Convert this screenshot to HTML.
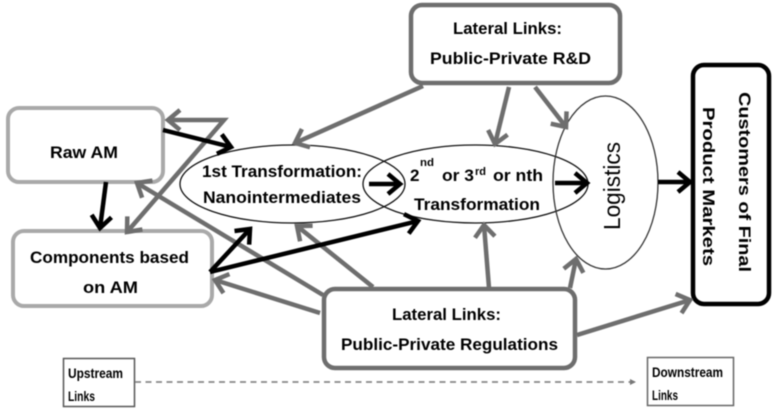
<!DOCTYPE html>
<html>
<head>
<meta charset="utf-8">
<style>
html,body{margin:0;padding:0;background:#fff;width:779px;height:412px;overflow:hidden}
svg{display:block;filter:blur(0.6px)}
text{font-family:"Liberation Sans","DejaVu Sans",sans-serif;fill:#000}
.b{font-weight:bold;font-size:17px}
.s{font-weight:bold;font-size:14px}
</style>
</head>
<body>
<svg width="779" height="412" viewBox="0 0 779 412" xmlns="http://www.w3.org/2000/svg">
<defs>
<marker id="g" markerUnits="userSpaceOnUse" markerWidth="30" markerHeight="30" refX="16" refY="15" orient="auto-start-reverse" overflow="visible">
<path d="M4,5 L16,15 L4,25" fill="none" stroke="#6e6e6e" stroke-width="4.500"/>
</marker>
<marker id="k" markerUnits="userSpaceOnUse" markerWidth="30" markerHeight="30" refX="16" refY="15" orient="auto" overflow="visible">
<path d="M4,5 L16,15 L4,25" fill="none" stroke="#000" stroke-width="4.500"/>
</marker>
<marker id="d" markerUnits="userSpaceOnUse" markerWidth="10" markerHeight="10" refX="7" refY="5" orient="auto">
<path d="M1,2 L7,5 L1,8 Z" fill="#777"/>
</marker>
</defs>

<rect x="8" y="108" width="155" height="74" rx="11" fill="#fff" stroke="#a9a9a9" stroke-width="4"/>
<rect x="13" y="231" width="199" height="75" rx="11" fill="#fff" stroke="#a9a9a9" stroke-width="4"/>
<rect x="411" y="5" width="209" height="78" rx="11" fill="#fff" stroke="#6e6e6e" stroke-width="4.500"/>
<rect x="324" y="289" width="251" height="79" rx="11" fill="#fff" stroke="#6e6e6e" stroke-width="4.500"/>
<rect x="693" y="65" width="76" height="239" rx="11" fill="#fff" stroke="#000" stroke-width="4.500"/>
<rect x="63.5" y="358.5" width="71" height="48" fill="#fff" stroke="#555" stroke-width="1.5"/>
<rect x="647.5" y="357.5" width="86" height="48" fill="#fff" stroke="#666" stroke-width="1.5"/>

<ellipse cx="292.500" cy="184" rx="112.500" ry="39" fill="none" stroke="#111" stroke-width="1.3"/>
<ellipse cx="475.500" cy="184" rx="112.500" ry="39" fill="none" stroke="#111" stroke-width="1.3"/>
<ellipse cx="605.500" cy="182.500" rx="52.500" ry="86.500" fill="none" stroke="#333" stroke-width="1.3"/>

<g fill="none" stroke="#6e6e6e" stroke-width="4.500">
<polyline points="168,120 224,120 127,232" marker-start="url(#g)" marker-end="url(#g)"/>
<line x1="423" y1="86" x2="295" y2="143" marker-end="url(#g)"/>
<line x1="509" y1="87" x2="495" y2="144" marker-end="url(#g)"/>
<line x1="535" y1="87" x2="566" y2="127" marker-end="url(#g)"/>
<line x1="323" y1="295" x2="137" y2="183" marker-end="url(#g)"/>
<line x1="320" y1="313" x2="215" y2="280" marker-end="url(#g)"/>
<line x1="373" y1="287" x2="297" y2="226" marker-end="url(#g)"/>
<line x1="489" y1="288" x2="484" y2="225" marker-end="url(#g)"/>
<line x1="570" y1="288" x2="576" y2="259" marker-end="url(#g)"/>
<line x1="577" y1="335" x2="690" y2="300" marker-end="url(#g)"/>
</g>

<g fill="none" stroke="#000" stroke-width="4.500">
<line x1="163" y1="130" x2="231" y2="147" marker-end="url(#k)"/>
<line x1="106" y1="182" x2="100" y2="228" marker-end="url(#k)"/>
<line x1="210" y1="272" x2="250" y2="229" marker-end="url(#k)"/>
<line x1="210" y1="272" x2="418" y2="221" marker-end="url(#k)"/>
<line x1="369" y1="184" x2="400" y2="184" marker-end="url(#k)"/>
<line x1="555" y1="183" x2="587" y2="183" marker-end="url(#k)"/>
<line x1="658" y1="182" x2="690" y2="182" marker-end="url(#k)"/>
</g>

<line x1="135" y1="382" x2="636" y2="382" stroke="#888" stroke-width="1.8" stroke-dasharray="6 4.500" marker-end="url(#d)"/>

<text class="b" x="50" y="158" textLength="68" lengthAdjust="spacingAndGlyphs">Raw AM</text>
<text class="b" x="30" y="263" textLength="159" lengthAdjust="spacingAndGlyphs">Components based</text>
<text class="b" x="83" y="293" textLength="55" lengthAdjust="spacingAndGlyphs">on AM</text>
<text class="b" x="202" y="177" textLength="160" lengthAdjust="spacingAndGlyphs">1st Transformation:</text>
<text class="b" x="203" y="203" textLength="158" lengthAdjust="spacingAndGlyphs">Nanointermediates</text>
<text class="b" x="410" y="181">2</text>
<text class="s" x="420" y="166" textLength="14" lengthAdjust="spacingAndGlyphs" style="font-size:11px">nd</text>
<text class="b" x="442" y="181" textLength="32" lengthAdjust="spacingAndGlyphs">or 3</text>
<text class="s" x="475" y="175" textLength="11" lengthAdjust="spacingAndGlyphs" style="font-size:11px">rd</text>
<text class="b" x="493" y="181" textLength="50" lengthAdjust="spacingAndGlyphs">or nth</text>
<text class="b" x="414" y="210" textLength="126" lengthAdjust="spacingAndGlyphs">Transformation</text>
<text class="b" x="453" y="34" textLength="109" lengthAdjust="spacingAndGlyphs">Lateral Links:</text>
<text class="b" x="430" y="64" textLength="161" lengthAdjust="spacingAndGlyphs">Public-Private R&amp;D</text>
<text class="b" x="392" y="320" textLength="109" lengthAdjust="spacingAndGlyphs">Lateral Links:</text>
<text class="b" x="341" y="350" textLength="217" lengthAdjust="spacingAndGlyphs">Public-Private Regulations</text>
<text transform="translate(620 230) rotate(-90)" x="0" y="0" style="font-size:23px" textLength="88" lengthAdjust="spacingAndGlyphs">Logistics</text>
<text class="b" transform="translate(739 92) rotate(90)" x="0" y="0" textLength="180" lengthAdjust="spacingAndGlyphs">Customers of Final</text>
<text class="b" transform="translate(703 107) rotate(90)" x="0" y="0" textLength="159" lengthAdjust="spacingAndGlyphs">Product Markets</text>
<text class="s" x="68" y="378" textLength="55" lengthAdjust="spacingAndGlyphs">Upstream</text>
<text class="s" x="68" y="401" textLength="27" lengthAdjust="spacingAndGlyphs">Links</text>
<text class="s" x="652" y="377" textLength="71" lengthAdjust="spacingAndGlyphs">Downstream</text>
<text class="s" x="652" y="400" textLength="26" lengthAdjust="spacingAndGlyphs">Links</text>
</svg>
</body>
</html>
